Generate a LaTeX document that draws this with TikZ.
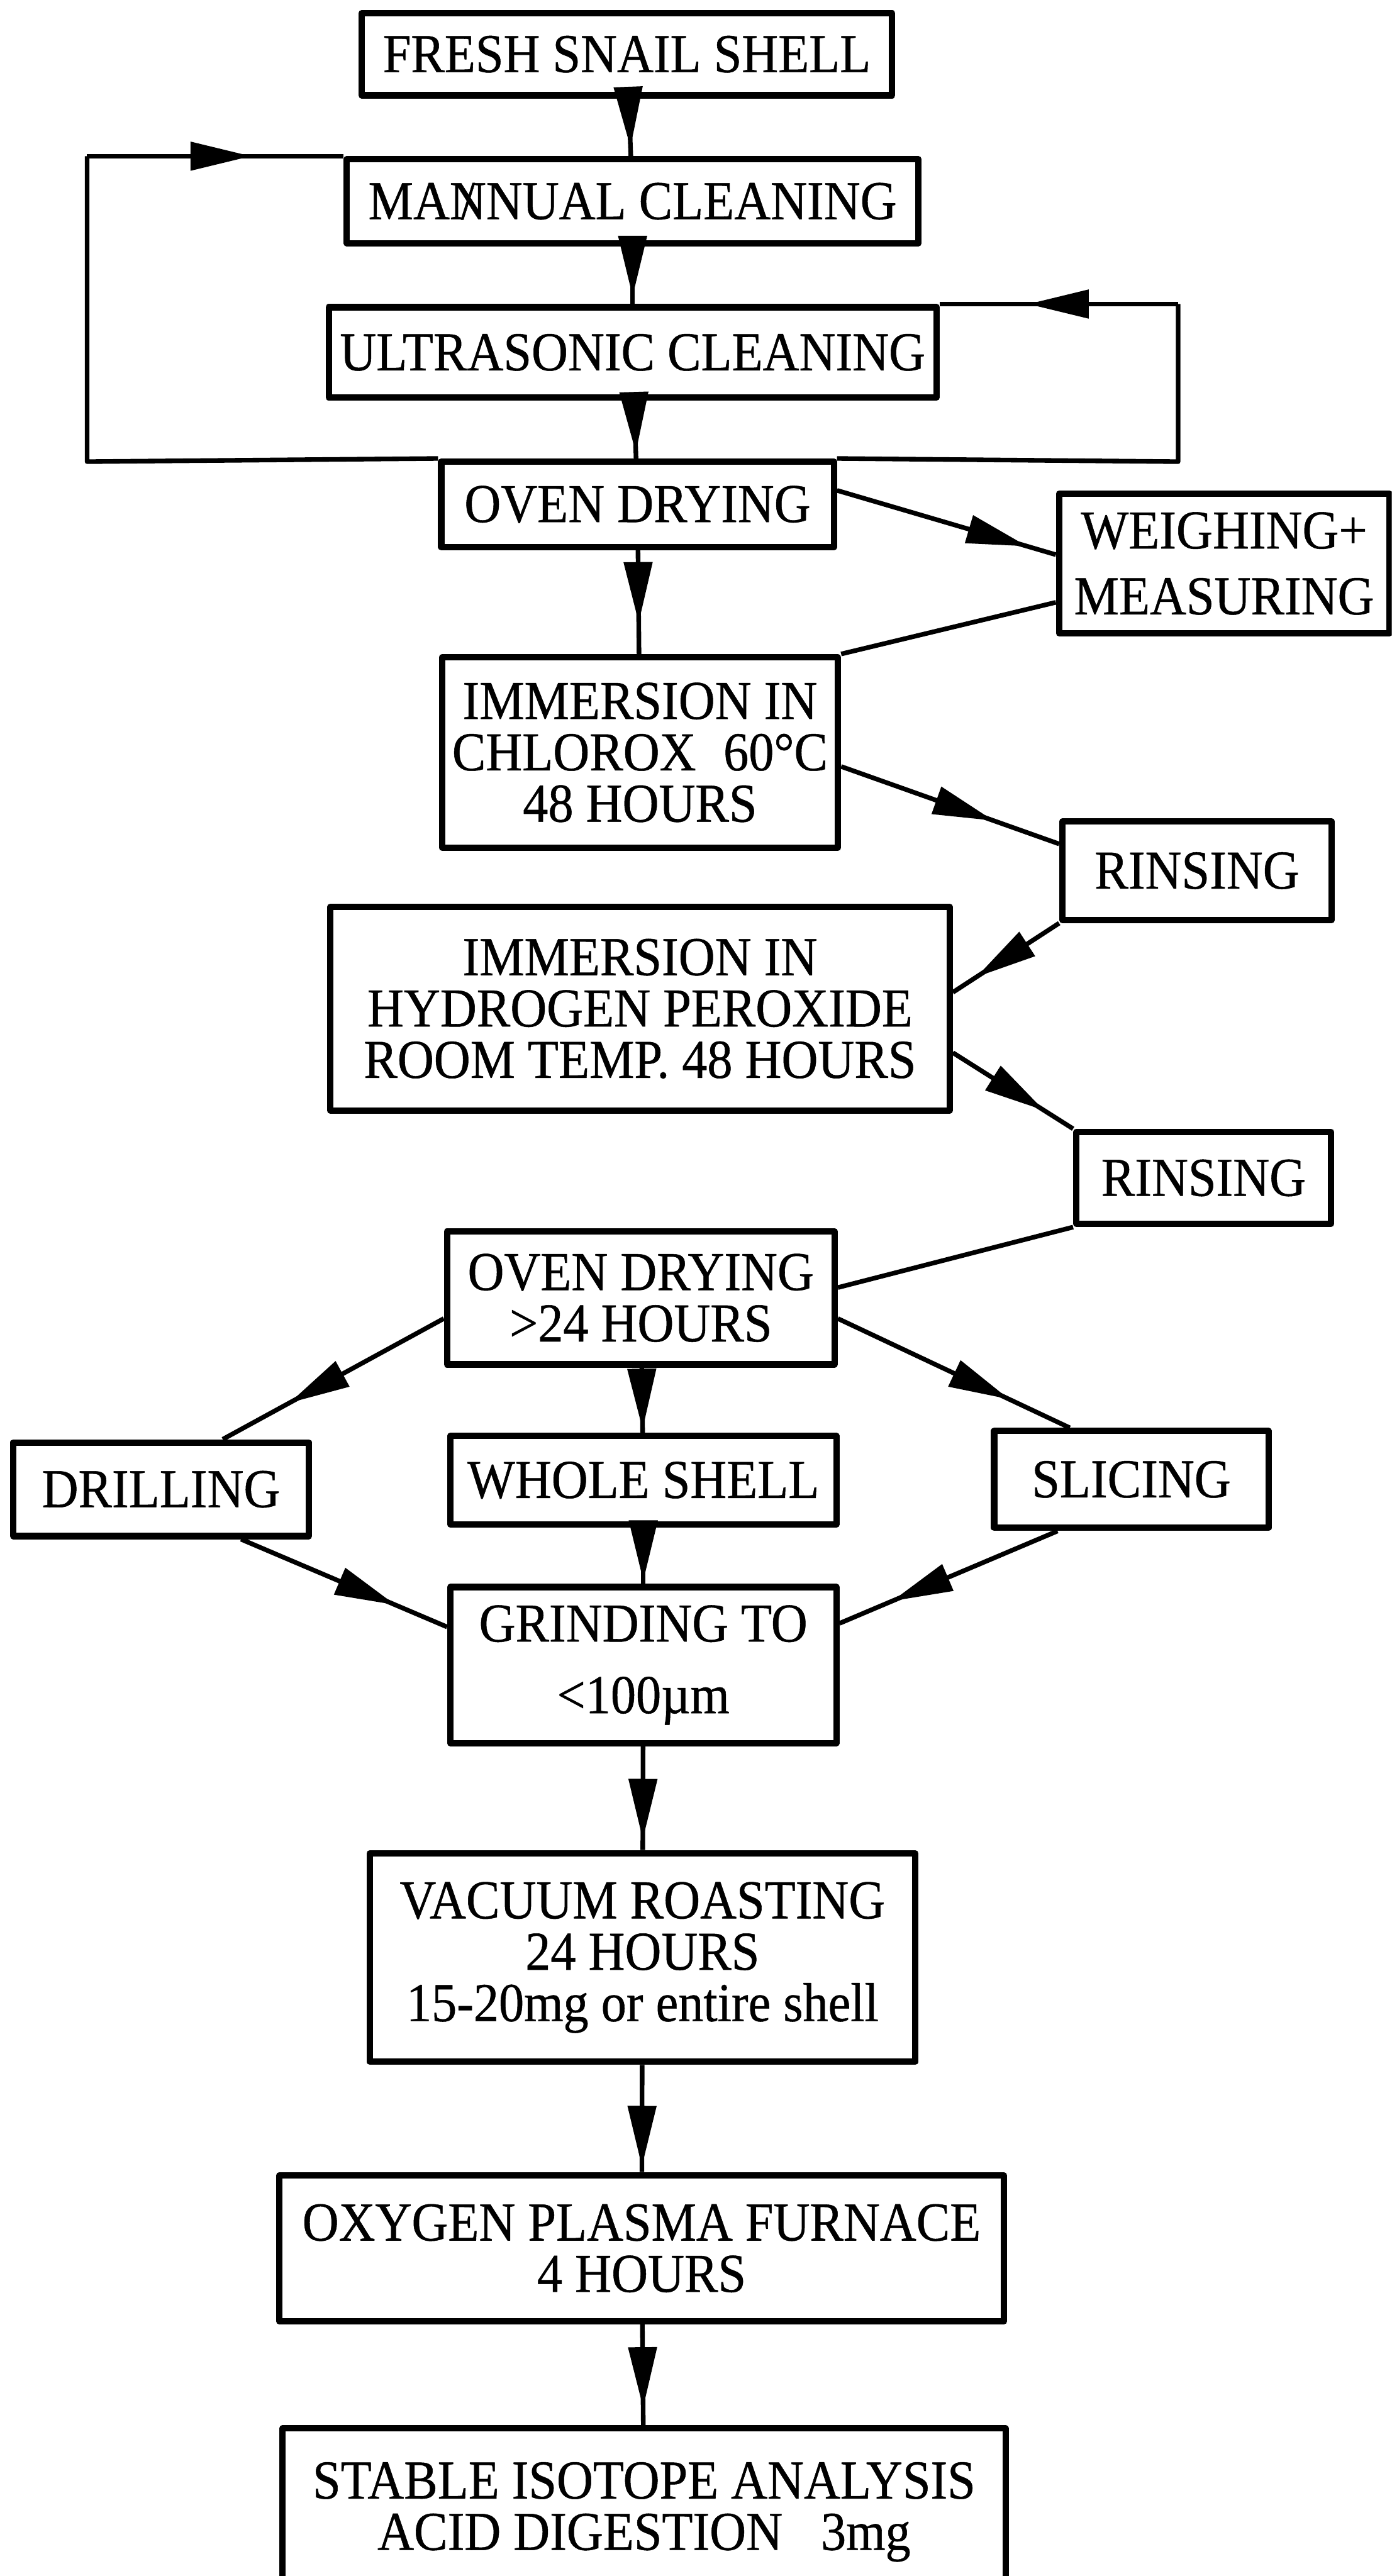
\documentclass[tikz,border=0pt]{standalone}
\usepackage{fontspec}
\setmainfont{Liberation Serif}[FakeStretch=0.92,FakeBold=0.6]
\usetikzlibrary{arrows.meta,calc,decorations.markings}

\begin{document}
\begin{tikzpicture}[x=0.02cm,y=-0.02cm,line join=round,
  font=\fontsize{19pt}{17.8pt}\selectfont,
  box/.style={draw,line width=2.2pt,align=center,inner sep=0pt},
  ln/.style={line width=1.6pt},
  flow/.style={ln,postaction={decorate},
    decoration={markings,mark=at position #1 with {\arrow{Triangle[length=7.4mm,width=3.4mm]}}}}]
\clip (0,0) rectangle (847,1568);
% cleaning steps
\node[box,minimum width=6.46cm,minimum height=1.00cm] (fresh) at (381.5,33) {FRESH SNAIL SHELL};
\node[box,minimum width=6.96cm,minimum height=1.02cm] (manual) at (385,122.5) {MA{\ooalign{N\cr\hidewidth/\hidewidth}}NUAL CLEANING};
\node[box,minimum width=7.40cm,minimum height=1.10cm] (ultra) at (385,214.5) {ULTRASONIC CLEANING};
\node[box,minimum width=4.78cm,minimum height=1.04cm] (oven) at (388,307) {OVEN DRYING};
\node[box,minimum width=4.02cm,minimum height=1.70cm] (weigh) at (745,343) {WEIGHING+\\[5pt]MEASURING};
% chemical treatment
\node[box,minimum width=4.82cm,minimum height=2.32cm] (chlorox) at (389.5,458) {IMMERSION IN\\CHLOROX\enspace 60°C\\48 HOURS};
\node[box,minimum width=3.28cm,minimum height=1.20cm] (rinseA) at (728.5,530) {RINSING};
\node[box,minimum width=7.54cm,minimum height=2.48cm] (peroxide) at (389.5,614) {IMMERSION IN\\HYDROGEN PEROXIDE\\ROOM TEMP. 48 HOURS};
\node[box,minimum width=3.10cm,minimum height=1.12cm] (rinseB) at (732.5,717) {RINSING};
\node[box,minimum width=4.72cm,minimum height=1.62cm] (ovenB) at (390,790) {OVEN DRYING\\>24 HOURS};
% sampling
\node[box,minimum width=3.60cm,minimum height=1.14cm] (drill) at (98,906.5) {DRILLING};
\node[box,minimum width=4.70cm,minimum height=1.08cm] (whole) at (391.5,901) {WHOLE SHELL};
\node[box,minimum width=3.34cm,minimum height=1.18cm] (slice) at (688.5,900.5) {SLICING};
\node[box,minimum width=4.70cm,minimum height=1.90cm] (grind) at (391.5,1013.5) {GRINDING TO\\[7pt]<100µm};
% analysis
\node[box,minimum width=6.64cm,minimum height=2.54cm] (vacuum) at (391,1191.5) {VACUUM ROASTING\\24 HOURS\\15-20mg or entire shell};
\node[box,minimum width=8.82cm,minimum height=1.78cm] (oxygen) at (390.5,1368.5) {OXYGEN PLASMA FURNACE\\4 HOURS};
\node[box,minimum width=8.80cm,minimum height=2.04cm] (stable) at (392,1529) {STABLE ISOTOPE ANALYSIS\\ACID DIGESTION\hspace{0.7em}3mg};
% main line
\draw[flow=0.85] (fresh) -- (manual);
\draw[flow=0.87] (manual) -- (ultra);
\draw[flow=0.9] (ultra) -- (oven);
\draw[flow=0.7] (oven) -- (chlorox);
% cleaning loop
\coordinate (loopL) at (53,281);
\coordinate (loopR) at (717,281);
\draw[ln] (oven.north west) -- (loopL) -- (loopL |- manual.north west);
\draw[flow=0.64] (loopL |- manual.north west) -- (manual.north west);
\draw[ln] (oven.north east) -- (loopR) -- (loopR |- ultra.north east);
\draw[flow=0.63] (loopR |- ultra.north east) -- (ultra.north east);
% side branches
\draw[flow=0.87] (oven.4) -- (weigh.177);
\draw[ln] (weigh.193) -- (chlorox.north east);
\draw[flow=0.7] (chlorox.-4) -- (rinseA.169);
\draw[flow=0.78] (rinseA.south west) -- (peroxide.3);
\draw[flow=0.76] (peroxide.-8) -- (rinseB.north west);
\draw[ln] (rinseB.south west) -- (ovenB.3);
% split and merge
\draw[flow=0.7] (ovenB.186) -- (drill.39);
\draw[flow=0.95] (ovenB) -- (whole);
\draw[flow=0.74] (ovenB.-6) -- (slice.140);
\draw[flow=0.75] (drill.-32) -- (grind.169);
\draw[flow=0.95] (whole) -- (grind);
\draw[flow=0.76] (slice.215) -- (grind.12);
\draw[flow=0.9] (grind) -- (vacuum);
\draw[flow=0.95] (vacuum) -- (oxygen);
\draw[flow=0.83] (oxygen) -- (stable);
\end{tikzpicture}
\end{document}
